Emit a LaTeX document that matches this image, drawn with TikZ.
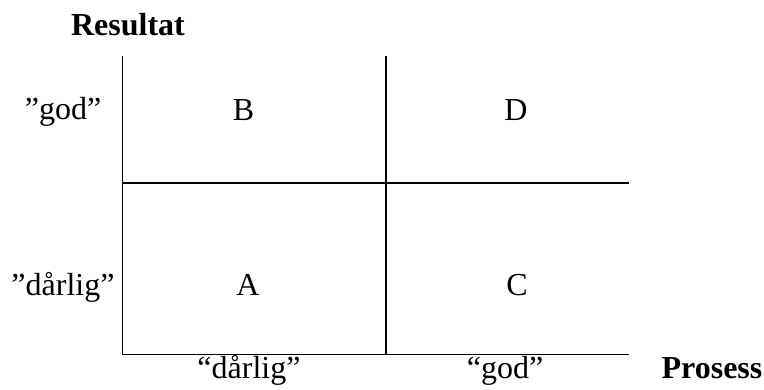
\documentclass[tikz,border=0pt]{standalone}
\usepackage{fontspec}
\setmainfont{Liberation Serif}
\begin{document}
\begin{tikzpicture}[x=1pt,y=-1pt,
  lbl/.style={anchor=base,inner sep=0pt,font=\fontsize{32}{38}\selectfont},
  blbl/.style={lbl,font=\fontsize{32}{38}\selectfont\bfseries},
  gridline/.style={line width=1.5pt,line cap=rect}]
\useasboundingbox (0,0) rectangle (764,390);
% grid corners
\coordinate (lt) at (122.5,57);
\coordinate (lb) at (122.5,354.5);
\coordinate (rb) at (628,354.5);
\coordinate (mt) at (386,57);
\coordinate (mb) at (386,354.5);
\coordinate (ml) at (122.5,183);
\coordinate (mr) at (628,183);
\draw[gridline] (lt) -- (lb) -- (rb);
\draw[gridline] (mt) -- (mb);
\draw[gridline] (ml) -- (mr);
% labels
\node[blbl] (res) at (128,36) {Resultat};
\node[blbl] (pro) at (712,379) {Prosess};
\node[lbl] (yg) at (63,120) {”god”};
\node[lbl] (yd) at (63,296) {”dårlig”};
\node[lbl] (xd) at (249,379) {“dårlig”};
\node[lbl] (xg) at (505,379) {“god”};
\node[lbl] (B) at (243.5,121) {B};
\node[lbl] (D) at (516,121) {D};
\node[lbl] (A) at (248,296) {A};
\node[lbl] (C) at (517,296) {C};
\end{tikzpicture}
\end{document}
